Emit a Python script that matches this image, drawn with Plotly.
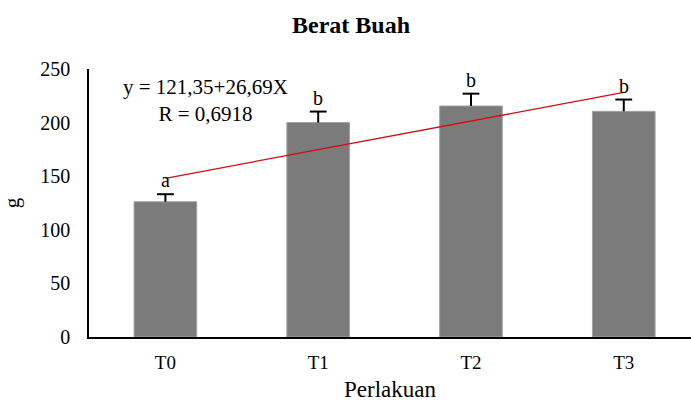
import plotly.graph_objects as go

categories = ["T0", "T1", "T2", "T3"]
berat = [126.2, 200.0, 215.5, 210.5]
galat = [7.0, 10.3, 11.5, 11.0]
notasi = ["a", "b", "b", "b"]
trend_x = ["T0", "T3"]
trend_y = [148.04, 228.11]
persamaan = "y = 121,35+26,69X<br>R = 0,6918"

FONT = "Times New Roman, Liberation Serif, serif"

fig = go.Figure()
fig.add_trace(go.Bar(
    x=categories, y=berat, width=0.41,
    marker=dict(color="#7b7b7b", line=dict(color="#a3a3a3", width=1)),
    error_y=dict(type="data", array=galat, symmetric=False, arrayminus=[0]*4,
                 color="black", thickness=2, width=0),
    showlegend=False,
))
# error bar caps (top only)
fig.add_trace(go.Scatter(
    x=categories, y=[v + e for v, e in zip(berat, galat)], mode="markers",
    marker=dict(symbol="line-ew", size=12, line=dict(color="black", width=2)),
    showlegend=False,
))
fig.add_trace(go.Scatter(
    x=trend_x, y=trend_y, mode="lines",
    line=dict(color="#d01010", width=1.3), showlegend=False,
))

for c, v, e, n in zip(categories, berat, galat, notasi):
    fig.add_annotation(x=c, y=v + e, text=n, showarrow=False,
                       yanchor="bottom", yshift=1,
                       font=dict(family=FONT, size=20, color="black"))

fig.add_annotation(xref="paper", yref="paper", x=0.193, y=0.985, text=persamaan,
                   showarrow=False, align="center", xanchor="center", yanchor="top",
                   font=dict(family=FONT, size=21, color="black"))

fig.update_layout(
    width=691, height=404,
    margin=dict(l=89, r=0, t=69, b=67),
    paper_bgcolor="white", plot_bgcolor="white",
    font=dict(family=FONT, size=20, color="black"),
    title=dict(text="<b>Berat Buah</b>", x=0.508, xanchor="center", y=0.938, yanchor="middle",
               font=dict(family=FONT, size=24, color="black")),
    xaxis=dict(
        range=[-0.5, 3.44], showline=True, linecolor="black", linewidth=1.5,
        ticks="", showgrid=False, ticklabelstandoff=7, automargin=False,
        title=dict(text="Perlakuan", font=dict(family=FONT, size=23), standoff=9),
        tickfont=dict(family=FONT, size=19),
    ),
    yaxis=dict(
        range=[0, 250], dtick=50, showline=True, linecolor="black", linewidth=1.5,
        ticks="", showgrid=False, zeroline=False, ticklabelstandoff=13, automargin=False,
        title=dict(text="g", font=dict(family=FONT, size=21), standoff=15),
        tickfont=dict(family=FONT, size=20),
    ),
    bargap=0.59,
)

fig.write_html("out.html", config={"displayModeBar": False},
               post_script="document.body.style.margin='0';document.body.style.padding='0';")
